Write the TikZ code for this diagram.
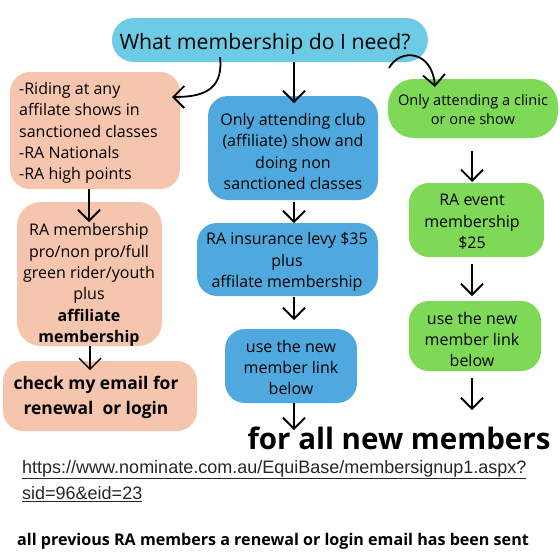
\documentclass[tikz,border=0pt]{standalone}
\usepackage{fontspec}
\setmainfont{Open Sans}
\newfontfamily\linkfont{Liberation Sans}
\usetikzlibrary{arrows.meta}
\definecolor{topblue}{HTML}{6DCBE5}
\definecolor{midblue}{HTML}{50A9DE}
\definecolor{peach}{HTML}{F6C5AE}
\definecolor{lgreen}{HTML}{7ED957}
\tikzset{
  box/.style={draw=none, rounded corners=20pt, inner sep=0pt},
  txt/.style={align=center, inner sep=0pt, font=\fontsize{16}{21.3}\selectfont},
  arr/.style={-{Straight Barb[length=11pt,width=22pt]}, line width=1.8pt, black},
}
\begin{document}
\begin{tikzpicture}[x=1pt,y=-1pt]
\useasboundingbox[fill=white] (0,0) rectangle (560,560);
% boxes
\node[box, fill=topblue, minimum width=316pt, minimum height=44pt, rounded corners=22pt] (q) at (270,40) {};
\node[box, fill=peach, minimum width=170pt, minimum height=117pt] (p1) at (95,130.5) {};
\node[box, fill=midblue, minimum width=170pt, minimum height=104pt] (b1) at (293,148) {};
\node[box, fill=lgreen, minimum width=170pt, minimum height=59pt, rounded corners=26pt] (g1) at (473,108.5) {};
\node[box, fill=lgreen, minimum width=135pt, minimum height=74pt] (g2) at (476.5,220) {};
\node[box, fill=lgreen, minimum width=132pt, minimum height=70pt] (g3) at (475,336) {};
\node[box, fill=midblue, minimum width=181pt, minimum height=73pt] (b2) at (287.5,259.5) {};
\node[box, fill=midblue, minimum width=132pt, minimum height=74pt] (b3) at (291,366) {};
\node[box, fill=peach, minimum width=145pt, minimum height=144pt, rounded corners=24pt] (p2) at (89.5,274) {};
\node[box, fill=peach, minimum width=194pt, minimum height=70pt] (p3) at (100,396) {};
% texts
\node[inner sep=0pt, font=\fontsize{21.2}{25}\selectfont] (qt) at (265,44) {What membership do I need?};
\node[txt, align=left, anchor=west] (p1t) at (19,133) {-Riding at any\\affilate shows in\\sanctioned classes\\-RA Nationals\\-RA high points};
\node[txt] (b1t) at (293,151.5) {Only attending club\\(affiliate) show and\\doing non\\sanctioned classes};
\node[txt, font=\fontsize{14.6}{19}\selectfont] (g1t) at (473,109.5) {Only attending a clinic\\or one show};
\node[txt] (g2t) at (472,222) {RA event\\membership\\\$25};
\node[txt] (g3t) at (472,339.5) {use the new\\member link\\below};
\node[txt] (b2t) at (287,262) {RA insurance levy \$35\\plus\\affilate membership};
\node[txt] (b3t) at (291,367.5) {use the new\\member link\\below};
\node[txt] (p2t) at (89,285) {RA membership\\pro/non pro/full\\green rider/youth\\plus\\\textbf{affiliate}\\\textbf{membership}};
\node[txt, font=\fontsize{17.4}{25}\selectfont\bfseries] (p3t) at (96,397) {check my email for\\renewal\ \ or login};
\node[inner sep=0pt, font=\fontsize{29.5}{33}\selectfont\bfseries] (fa) at (399,438) {for all new members};
\node[inner sep=0pt, align=left, anchor=west, text=black!85, font=\linkfont\fontsize{18}{26}\selectfont] (lk) at (22,481) {\underline{https://www.nominate.com.au/EquiBase/membersignup1.aspx?}\\\underline{sid=96\&eid=23}};
\node[inner sep=0pt, anchor=west, font=\fontsize{16.1}{19}\selectfont\bfseries] (bt) at (17,541) {all previous RA members a renewal or login email has been sent};
% connector end points
\coordinate (s1) at (220,57);
\coordinate (e1) at (172,97);
\coordinate (s3) at (389,68);
\coordinate (e3) at (435,87);
% connectors
\draw[arr] (s1) .. controls (224,92) and (200,97) .. (e1);
\draw[arr] (q.south -| 294,0) -- (294,103);
\draw[arr] (s3) .. controls (400,48) and (432,50) .. (e3);
\draw[arr] (g1.south -| 472,0) ++(0,13) -- (472,182);
\draw[arr] (g2.south -| 472,0) ++(0,7) -- (472,296);
\draw[arr] (g3.south -| 472,0) ++(0,7) -- (472,410);
\draw[arr] (b1.south -| 294,0) ++(0,2) -- (294,223);
\draw[arr] (b2.south -| 294,0) ++(0,1) -- (294,320);
\draw[arr] (b3.south -| 294,0) -- (294,430);
\draw[arr] (p1.south -| 89,0) -- (89,222);
\draw[arr, line width=1.4pt] (p2.south -| 90,0) -- (90,370);
\end{tikzpicture}
\end{document}
